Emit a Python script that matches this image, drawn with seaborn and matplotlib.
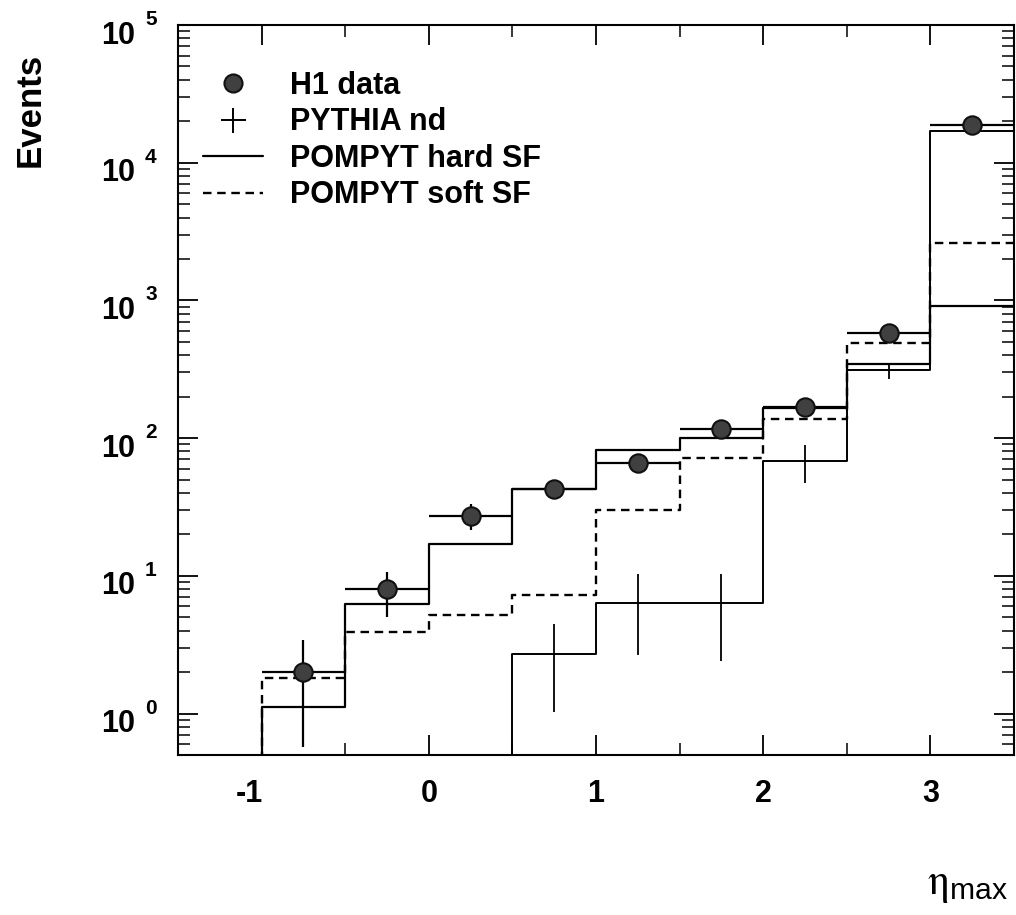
#!/usr/bin/env python3
"""
eta_max distribution: H1 data vs PYTHIA nd and POMPYT (hard / soft SF)
"""

import numpy as np
import matplotlib
matplotlib.use("Agg")
import matplotlib.pyplot as plt
import seaborn as sns
from matplotlib.lines import Line2D
from matplotlib.ticker import MultipleLocator, LogLocator, NullFormatter
from matplotlib.transforms import ScaledTranslation, offset_copy

# binning in eta_max
bin_edges = [-1.5, -1.0, -0.5, 0.0, 0.5, 1.0, 1.5, 2.0, 2.5, 3.0, 3.5]

# H1 data points
data_centers = [-0.75, -0.25, 0.25, 0.75, 1.25, 1.75, 2.25, 2.75, 3.25]
data_values = [2.0, 8.0, 27, 43, 66, 116, 168, 580, 18900]
data_low = [0.57, 5.0, 21.4, 36, 58, 105, 155, 556, 18760]
data_high = [3.4, 10.6, 33, 50, 74, 127, 181, 604, 19040]

# Monte Carlo, one value per bin of bin_edges
pythia_nd = [0, 0, 0, 0, 2.7, 6.4, 6.3, 68, 310, 17000]
pythia_low = [0, 0, 0, 0, 1.02, 2.64, 2.4, 47, 270, 16870]
pythia_high = [0, 0, 0, 0, 4.5, 10.3, 10.3, 89, 350, 17130]
pompyt_hard = [0, 1.12, 6.2, 17, 43, 82, 100, 165, 345, 910]
pompyt_soft = [0, 1.8, 3.9, 5.2, 7.3, 30, 72, 137, 490, 2630]

y_exponents = [0, 1, 2, 3, 4, 5]
x_ticks = [-1, 0, 1, 2, 3]

sns.set_style("ticks")
plt.rcParams['font.family'] = ['Liberation Sans', 'DejaVu Sans']
plt.rcParams['text.color'] = 'black'
plt.rcParams['axes.labelcolor'] = 'black'
plt.rcParams['mathtext.fontset'] = 'stix'

fig = plt.figure(figsize=(10.16, 9.15), dpi=100)
ax = fig.add_axes([178 / 1016, 160 / 915, 836 / 1016, 730 / 915])
ax.set_yscale('log')

edges = np.array(bin_edges)
centers = (edges[:-1] + edges[1:]) / 2
half_width = np.diff(edges) / 2

# MC histograms
sns.histplot(x=centers, weights=pompyt_hard, bins=bin_edges, element='step',
             fill=False, color='black', linewidth=1.6, ax=ax)
sns.histplot(x=centers, weights=pythia_nd, bins=bin_edges, element='step',
             fill=False, color='black', linewidth=1.4, ax=ax)
sns.histplot(x=centers, weights=pompyt_soft, bins=bin_edges, element='step',
             fill=False, color='black', linewidth=1.7,
             linestyle=(0, (3.6, 2.4)), ax=ax)

# PYTHIA error bars
py = np.array(pythia_nd, dtype=float)
mask = py > 0
ax.errorbar(centers[mask], py[mask],
            yerr=[py[mask] - np.array(pythia_low)[mask],
                  np.array(pythia_high)[mask] - py[mask]],
            fmt='none', ecolor='black', elinewidth=1.3, capsize=0)

# H1 data
dv = np.array(data_values, dtype=float)
ax.errorbar(data_centers, dv, xerr=half_width[1:],
            yerr=[dv - np.array(data_low), np.array(data_high) - dv],
            fmt='none', ecolor='black', elinewidth=1.6, capsize=0, zorder=4)
sns.scatterplot(x=data_centers, y=data_values, s=175, color='#404040',
                edgecolor='#111111', linewidth=1.5, zorder=5, ax=ax)

# axes
ax.set_xlim(-1.5, 3.5)
ax.set_ylim(0.5, 1e5)
for sp in ax.spines.values():
    sp.set_linewidth(1.5)
    sp.set_color('black')

ax.xaxis.set_minor_locator(MultipleLocator(0.5))
ax.set_xticks(x_ticks)
ax.set_xticklabels([str(t) for t in x_ticks], fontweight='bold')
ax.yaxis.set_major_locator(LogLocator(base=10, numticks=10))
ax.yaxis.set_minor_locator(LogLocator(base=10, subs=np.arange(2, 10), numticks=20))
ax.yaxis.set_minor_formatter(NullFormatter())
ax.set_yticks([10.0 ** e for e in y_exponents])
ax.set_yticklabels(['10'] * len(y_exponents), fontweight='bold')

ax.tick_params(which='both', direction='in', top=True, right=True, colors='black')
ax.tick_params(which='major', length=14.5, width=1.3, labelsize=22)
ax.tick_params(which='minor', length=8.5, width=1.1)
ax.tick_params(axis='x', which='major', pad=17)
ax.tick_params(axis='y', which='major', pad=31)

# nudge tick labels to match the reference
for lab in ax.get_yticklabels():
    lab.set_transform(lab.get_transform() + ScaledTranslation(0, -7 / 100, fig.dpi_scale_trans))
for lab in ax.get_xticklabels():
    if lab.get_text().startswith('-'):
        lab.set_transform(lab.get_transform() + ScaledTranslation(-12 / 100, 0, fig.dpi_scale_trans))

# exponents of the y labels
exp_trans = offset_copy(ax.get_yaxis_transform(), fig=fig, x=-33, y=0, units='dots')
for e in y_exponents:
    ax.text(0, 10.0 ** e, str(e), transform=exp_trans, ha='left', va='baseline',
            fontsize=15, fontweight='bold', clip_on=False)

ax.set_ylabel('Events', fontsize=25, fontweight='bold')
ax.yaxis.set_label_coords(-0.157, 0.884)
ax.set_xlabel(r'$\mathrm{\eta}_{\mathregular{max}}$', fontsize=31, ha='right')
ax.xaxis.set_label_coords(0.993, -0.151)

# legend
handles = [
    Line2D([], [], marker='o', ls='none', markersize=13, markerfacecolor='#404040',
           markeredgecolor='#111111', markeredgewidth=1.5),
    Line2D([], [], marker='+', ls='none', markersize=18, markeredgewidth=1.4, color='black'),
    Line2D([], [], color='black', lw=1.6),
    Line2D([], [], color='black', lw=1.7, ls=(0, (3.6, 2.4))),
]
labels = ['H1 data', 'PYTHIA nd', 'POMPYT hard SF', 'POMPYT soft SF']
ax.legend(handles, labels, loc='upper left', bbox_to_anchor=(0.03, 0.937),
          frameon=False, handlelength=1.95, handletextpad=0.9,
          prop={'size': 22, 'weight': 'bold'},
          labelspacing=0.21, borderpad=0, borderaxespad=0)

fig.savefig('out.png', dpi=100)
